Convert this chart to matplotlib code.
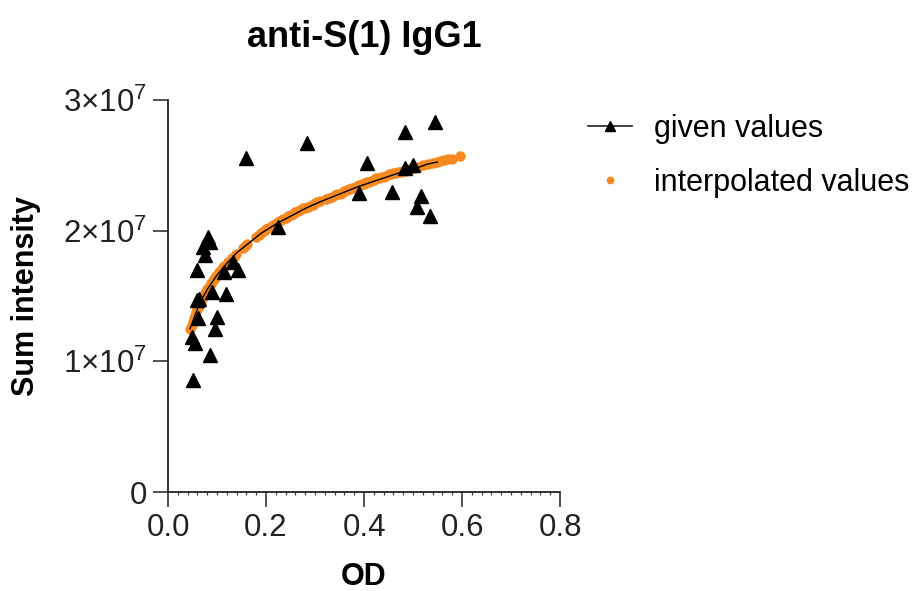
import matplotlib
matplotlib.use("Agg")
import matplotlib.pyplot as plt
from matplotlib.lines import Line2D
from matplotlib.ticker import FuncFormatter, MultipleLocator

plt.rcParams['font.family'] = ['Liberation Sans', 'DejaVu Sans']
plt.rcParams['mathtext.fontset'] = 'custom'
plt.rcParams['mathtext.rm'] = 'Liberation Sans'
plt.rcParams['mathtext.it'] = 'Liberation Sans'

# ---- data ----
title = "anti-S(1) IgG1"
x_label = "OD"
y_label = "Sum intensity"
legend_labels = ["given values", "interpolated values"]

given_od = [0.545, 0.484, 0.283, 0.159, 0.407, 0.484, 0.501, 0.390, 0.458, 0.516,
            0.508, 0.535, 0.225, 0.082, 0.086, 0.072, 0.076, 0.059, 0.132, 0.142,
            0.114, 0.089, 0.118, 0.059, 0.064, 0.099, 0.062, 0.096, 0.048, 0.055,
            0.086, 0.052]
given_int = [2.83e7, 2.757e7, 2.668e7, 2.553e7, 2.515e7, 2.477e7, 2.502e7, 2.29e7, 2.298e7, 2.265e7,
             2.178e7, 2.112e7, 2.03e7, 1.953e7, 1.915e7, 1.877e7, 1.813e7, 1.699e7, 1.762e7, 1.699e7,
             1.686e7, 1.533e7, 1.515e7, 1.469e7, 1.48e7, 1.341e7, 1.329e7, 1.245e7, 1.188e7, 1.138e7,
             1.048e7, 0.857e7]

fit_od = [0.045, 0.05, 0.06, 0.07, 0.08, 0.10, 0.12, 0.14, 0.16, 0.19, 0.22, 0.25,
          0.28, 0.31, 0.35, 0.39, 0.43, 0.47, 0.50, 0.53, 0.55]
fit_int = [1.25e7, 1.30e7, 1.40e7, 1.48e7, 1.55e7, 1.66e7, 1.75e7, 1.83e7, 1.89e7, 1.98e7, 2.05e7, 2.11e7,
           2.17e7, 2.22e7, 2.28e7, 2.34e7, 2.39e7, 2.44e7, 2.47e7, 2.51e7, 2.525e7]

interp_od = [0.045, 0.048, 0.050, 0.053, 0.055, 0.058, 0.060, 0.063, 0.065, 0.068,
             0.070, 0.073, 0.075, 0.078, 0.080, 0.083, 0.085, 0.088, 0.090, 0.093,
             0.095, 0.098, 0.100, 0.104, 0.108, 0.112, 0.115, 0.118, 0.122, 0.126,
             0.130, 0.134, 0.138, 0.153, 0.157, 0.161, 0.180, 0.185, 0.190, 0.195,
             0.200, 0.205, 0.210, 0.215, 0.220, 0.225, 0.230, 0.235, 0.240, 0.245,
             0.250, 0.255, 0.260, 0.265, 0.270, 0.275, 0.280, 0.285, 0.290, 0.295,
             0.300, 0.305, 0.310, 0.322, 0.328, 0.335, 0.340, 0.345, 0.350, 0.355,
             0.360, 0.365, 0.370, 0.375, 0.380, 0.385, 0.390, 0.395, 0.400, 0.405,
             0.410, 0.415, 0.420, 0.425, 0.430, 0.435, 0.440, 0.445, 0.450, 0.455,
             0.460, 0.465, 0.470, 0.475, 0.480, 0.485, 0.490, 0.495, 0.500, 0.505,
             0.510, 0.520, 0.530, 0.540, 0.548, 0.556, 0.564, 0.572, 0.580, 0.596]
interp_int = [1.25e7, 1.28e7, 1.30e7, 1.33e7, 1.35e7, 1.38e7, 1.40e7, 1.42e7, 1.44e7, 1.46e7,
              1.48e7, 1.50e7, 1.52e7, 1.53e7, 1.55e7, 1.57e7, 1.58e7, 1.60e7, 1.61e7, 1.63e7,
              1.64e7, 1.65e7, 1.66e7, 1.68e7, 1.70e7, 1.72e7, 1.73e7, 1.74e7, 1.76e7, 1.77e7,
              1.79e7, 1.80e7, 1.82e7, 1.87e7, 1.88e7, 1.90e7, 1.95e7, 1.97e7, 1.98e7, 2.00e7,
              2.01e7, 2.02e7, 2.03e7, 2.04e7, 2.05e7, 2.07e7, 2.08e7, 2.09e7, 2.10e7, 2.11e7,
              2.12e7, 2.13e7, 2.14e7, 2.15e7, 2.16e7, 2.17e7, 2.17e7, 2.18e7, 2.19e7, 2.20e7,
              2.21e7, 2.22e7, 2.23e7, 2.24e7, 2.25e7, 2.26e7, 2.27e7, 2.28e7, 2.28e7, 2.29e7,
              2.30e7, 2.31e7, 2.32e7, 2.33e7, 2.33e7, 2.34e7, 2.35e7, 2.36e7, 2.36e7, 2.37e7,
              2.37e7, 2.38e7, 2.39e7, 2.40e7, 2.40e7, 2.41e7, 2.41e7, 2.42e7, 2.43e7, 2.43e7,
              2.44e7, 2.44e7, 2.45e7, 2.45e7, 2.46e7, 2.46e7, 2.47e7, 2.47e7, 2.48e7, 2.48e7,
              2.49e7, 2.50e7, 2.51e7, 2.52e7, 2.525e7, 2.53e7, 2.54e7, 2.545e7, 2.55e7, 2.57e7]

x_ticks = [0.0, 0.2, 0.4, 0.6, 0.8]
y_ticks = [0, 1e7, 2e7, 3e7]

ORANGE = '#F5891F'

fig = plt.figure(figsize=(9.23, 5.91), dpi=100)
ax = fig.add_axes([168/923, 1-492/591, (560-168)/923, (492-100)/591])

ax.plot(interp_od, interp_int, linestyle='none', marker='o', ms=7.5,
        color=ORANGE, mec='none', zorder=2)
ax.plot(fit_od, fit_int, color='black', lw=1.0, zorder=3)
ax.plot(given_od, given_int, linestyle='none', marker='^', ms=10,
        color='black', mec='black', zorder=4)

ax.set_xlim(0, 0.8)
ax.set_ylim(0, 3e7)
ax.set_xticks(x_ticks)
ax.set_yticks(y_ticks)
ax.xaxis.set_minor_locator(MultipleLocator(0.02))
ax.xaxis.set_major_formatter(FuncFormatter(lambda v, p: f"{v:.1f}"))

def yfmt(v, p):
    if v == 0:
        return "0"
    m = int(round(v / 1e7))
    return r"$%d{\times}10^{7}$" % m

ax.yaxis.set_major_formatter(FuncFormatter(yfmt))

for s in ['top', 'right']:
    ax.spines[s].set_visible(False)
for s in ['left', 'bottom']:
    ax.spines[s].set_linewidth(1.3)
    ax.spines[s].set_color('#222222')

ax.tick_params(axis='both', which='major', length=11, width=1.1, labelsize=22.5,
               color='#222222', labelcolor='#222222', pad=4)
ax.tick_params(axis='x', which='minor', length=2.5, width=0.9, color='#444444')

ax.set_xlabel(x_label, fontsize=22, fontweight='bold', labelpad=14)
ax.set_ylabel(y_label, fontsize=22, fontweight='bold', labelpad=16)
ax.set_title(title, fontsize=26, fontweight='bold', pad=38)

handles = [
    Line2D([], [], color='#333333', lw=1.3, marker='^', ms=7, mfc='black', mec='black'),
    Line2D([], [], linestyle='none', marker='o', ms=5.5, color=ORANGE, mec='none'),
]
fig.legend(handles, legend_labels, loc='upper left',
           bbox_to_anchor=(588/923, 1-114/591), frameon=False, fontsize=22,
           handlelength=1.45, handletextpad=0.7, labelspacing=0.78, borderpad=0,
           borderaxespad=0)

fig.savefig("out.png", dpi=100)
